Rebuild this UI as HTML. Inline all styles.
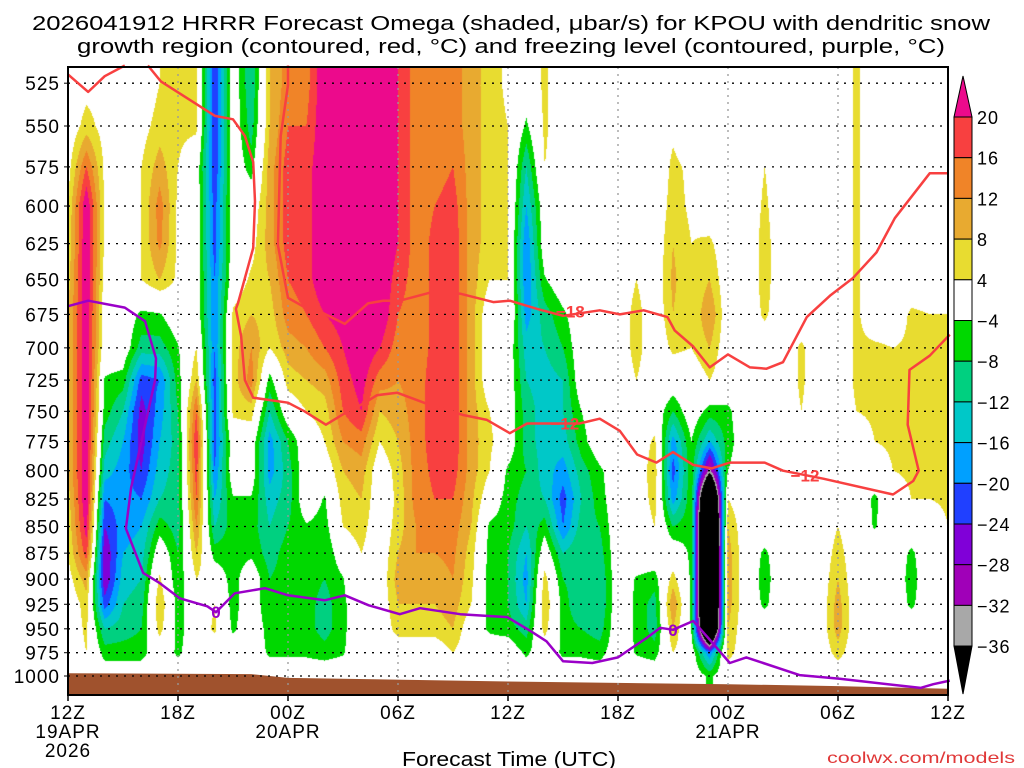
<!DOCTYPE html>
<html><head><meta charset="utf-8">
<style>
html,body{margin:0;padding:0;background:#fff;}
#wrap{position:relative;width:1024px;height:768px;overflow:hidden;font-family:"Liberation Sans",sans-serif;}
#field{position:absolute;left:0;top:0;}
#ov{position:absolute;left:0;top:0;}
</style></head>
<body>
<div id="wrap">
<canvas id="field" width="1024" height="768"></canvas>
<svg id="ov" width="1024" height="768" xmlns="http://www.w3.org/2000/svg">
<text x="511" y="30" text-anchor="middle" font-size="20" textLength="958" lengthAdjust="spacingAndGlyphs">2026041912 HRRR Forecast Omega (shaded, μbar/s) for KPOU with dendritic snow</text>
<text x="511" y="53" text-anchor="middle" font-size="20" textLength="868" lengthAdjust="spacingAndGlyphs">growth region (contoured, red, °C) and freezing level (contoured, purple, °C)</text>
<text x="509" y="766" text-anchor="middle" font-size="20" textLength="214" lengthAdjust="spacingAndGlyphs">Forecast Time (UTC)</text>
<text x="1015" y="763" text-anchor="end" font-size="16" fill="#e03838" textLength="188" lengthAdjust="spacingAndGlyphs">coolwx.com/models</text>
<g id="gAxes"></g>
</svg>
</div>
<script>
// ---- data ----
const timesH = [0,1,2,3,4,5,6,7,8,9,10,11,12,13,14,15,16,17,18,19,20,21,22,23,24,25,26,27,28,29,30,31,32,33,34,35,36,37,38,39,40,41,42,43,44,45,46,47,48];
const levels = [525,550,575,600,625,650,675,700,725,750,775,800,825,850,875,900,925,950,975,1000];
const omega = [
[0,0,2,4,5,6,8,8,8,8,8,8,6,5,4,2,0,0,0,0],
[2,6,16,24,24,24,24,24,24,24,24,24,24,22,18,10,6,5,4,0],
[2,2,3,3,3,2,0,0,-4.5,-6,-10,-14,-20,-24,-28,-28,-22,-12,-6,0],
[0,0,0,0,0,0,0,0,-6,-12,-16,-18,-18,-18,-16,-14,-12,-10,-6,0],
[0,2,4,4,4,4,-5,-10,-22,-26,-26,-24,-20,-16,-14,-12,-10,-8,-6,0],
[4,6,10,14,13,8,-4.5,-10,-20,-18,-16,-14,-12,-6,0,5,8,6,0,0],
[5,5,4,3,3,3,0,-4.5,-6,-8,-10,-10,-10,-10,-8,-8,-6,-6,-5,0],
[5,5,0,0,0,0,0,4,8,16,20,18,16,12,8,4,0,0,0,0],
[-24,-24,-24,-22,-22,-20,-20,-20,-22,-22,-22,-20,-16,-12,-6,0,4,5,0,0],
[0,0,0,0,0,0,5,6,6,5,0,0,-4.5,-6,-6,-6,-6,-5,0,0],
[-12,-10,-6,0,2,5,8,12,14,6,0,0,-4.5,-6,-5,0,0,0,0,0],
[8,8,10,10,10,8,6,4,-6,-12,-18,-18,-14,-12,-10,-8,-8,-6,-5,0],
[14,16,18,18,18,16,14,10,6,0,-8,-10,-10,-8,-6,-6,-5,-5,-5,0],
[14,16,18,18,18,18,16,12,8,4,0,0,0,-4.5,-6,-6,-6,-6,-5,0],
[24,24,24,24,24,24,20,16,10,6,4,0,-4.5,-6,-8,-8,-10,-10,-6,0],
[24,24,24,24,24,24,22,20,18,16,12,8,6,4,0,-4.5,-5,-5,-4.5,0],
[24,24,24,24,24,24,24,24,22,20,14,10,8,6,4,4,0,0,0,0],
[24,24,24,24,24,24,24,20,14,8,4,0,0,0,0,0,0,0,0,0],
[20,20,20,20,20,18,16,14,12,10,8,6,5,6,8,10,8,6,0,0],
[14,14,14,14,14,14,14,14,14,14,14,14,14,12,12,10,8,6,0,0],
[14,14,14,16,17,17,17,17,18,18,18,17,16,14,12,10,8,6,0,0],
[14,14,16,18,19,19,19,19,19,19,19,18,16,14,13,12,10,8,4,0],
[10,10,10,10,10,10,10,10,10,10,10,10,9,8,6,5,4,0,0,0],
[6,6,6,6,6,4,0,0,0,4,5,4,0,-5,-6,-6,-6,-5,0,0],
[3,4,4,4,4,4,4,0,0,0,0,-5,-6,-6,-8,-8,-8,-6,0,0],
[0,-5,-12,-16,-20,-20,-18,-14,-12,-10,-10,-8,-10,-12,-16,-18,-16,-10,-5,0],
[5,5,4,0,0,-4.5,-10,-12,-14,-14,-14,-14,-12,-6,0,6,8,6,0,0],
[0,0,0,0,0,0,-5,-8,-12,-12,-14,-18,-22,-20,-12,-8,-6,-6,-5,0],
[0,0,0,0,0,0,0,0,0,-4,-6,-10,-12,-10,-8,-10,-12,-8,-5,0],
[0,0,0,0,0,0,0,0,0,0,0,-5,-6,-8,-10,-12,-12,-10,-6,0],
[0,0,0,0,0,0,0,0,0,0,0,0,0,0,0,0,0,0,0,0],
[0,0,0,0,0,4,6,6,4,0,0,0,0,0,0,-4.5,-5,-5,-4.5,0],
[0,0,0,0,0,0,0,0,0,0,5,7,6,4,0,-6,-10,-10,-6,0],
[0,3,5,6,8,9,8,5,0,-8,-18,-22,-18,-8,0,6,12,8,4,0],
[0,0,3,3,4,4,4,4,0,0,-4,-5,-5,-5,-5,-5,-5,-4.5,0,0],
[0,0,0,0,5,8,12,8,4,-6,-16,-34,-70,-80,-80,-80,-80,-70,-20,-5],
[0,0,0,0,0,0,0,0,0,-5,-6,-4,4,8,10,10,10,8,6,0],
[0,0,0,0,0,0,0,0,0,0,0,0,0,0,0,0,0,0,0,0],
[0,0,4,5,6,6,5,0,0,0,0,0,0,0,-5,-6,-5,0,0,0],
[0,0,0,0,0,0,0,0,0,0,0,0,0,0,0,0,0,0,0,0],
[0,0,0,0,0,0,0,5,5,4,0,0,0,0,0,0,0,0,0,0],
[0,0,0,0,0,0,0,0,0,0,0,0,0,0,0,0,0,0,0,0],
[0,0,0,0,0,0,0,0,0,0,0,0,0,4,6,8,10,10,6,0],
[5,5,5,5,5,5,5,5,5,4,0,0,0,0,0,0,0,0,0,0],
[0,0,0,0,0,0,0,5,5,5,4,0,-5,-4.5,0,0,0,0,0,0],
[0,0,0,0,0,0,0,4,5,5,5,4,0,0,0,0,0,0,0,0],
[4,4,0,0,0,0,5,5,5,5,5,5,4,0,-5,-6,-5,0,0,0],
[0,0,0,0,0,0,4,5,5,5,5,5,4,0,0,0,0,0,0,0],
[0,0,0,0,0,0,4,5,5,5,5,5,5,4,0,0,0,0,0,0]
];
const sfcT = [0,10,12,24,36,42,48];
const sfcP = [997,998,1002,1006,1009,1011,1014];
const dgzUpperT = [0,1.1,2.0,3.1];
const dgzUpperP = [520,530,521,515];
const dgz12T = [4.36,5.07,8.02,9.0,9.65,10.1,10.2,10.1,9.27,9.16,9.44,9.65,10.1,12.0,12.9,14.07,15.27,16.2,16.85,17.95,19.6,21.55,22.85,24.1,25.04,26.3,27.9,29.0,30.1,31.04,32.1,33.0,34.1,35.1,36.1,38.0,39.0,41.2,45.0,46.1,46.4,45.8,45.9,47.0,48.1];
const dgz12P = [515,524,544,546,556,572,597,628,667,671,691,725,739,743,750,761,750,743,737,735,744,753,757,768,760,760,760,756,766,786,793,784,795,798,793,793,800,807,821,809,800,761,717,706,690];
const dgz18T = [12.0,12.0,11.6,11.45,12.0,13.47,13.9,15.1,16.36,17.2,18.1,20.1,21.4,23.2,24.1,25.6,27.0,29.0,30.1,31.4,32.7,33.1,34.1,35.0,36.0,37.2,38.1,39.0,40.3,41.6,42.8,44.1,45.1,47.0,47.95];
const dgz18P = [515,526,556,626,663,674,674,682,667,665,665,658,660,666,665,671,676,672,675,672,677,687,699,715,705,715,716,711,677,661,649,631,608,579,579];
const frzT = [0,1.1,3.1,4.2,4.8,4.75,3.44,3.16,4.1,5.0,6.1,7.6,8.07,8.45,9.1,10.75,12.0,14.0,15.1,16.4,18.1,19.2,21.4,23.95,25.2,26.1,27.0,28.6,30.0,31.6,32.3,33.0,34.1,34.9,36.1,37.0,39.9,42.1,46.5,47.2,48.1];
const frzP = [669,665,670,680,708,725,815,852,894,904,919,927,933,926,914,909,916,921,916,926,935,929,935,938,952,963,984,986,980,959,949,951,942,959,986,980,999,1003,1013,1009,1005];
const contourLabels = [["−18",27.4,673,"#f84040"],["−12",27.1,760,"#f84040"],["−12",40.2,804,"#f84040"],["0",8.07,933,"#9a00c8"],["0",33.0,951,"#9a00c8"]];
const yTicks = [525,550,575,600,625,650,675,700,725,750,775,800,825,850,875,900,925,950,975,1000];
const xTickH = [0,6,12,18,24,30,36,42,48];
const xTickLab = ["12Z","18Z","00Z","06Z","12Z","18Z","00Z","06Z","12Z"];
const xTickLab2 = ["19APR","","20APR","","","","21APR","",""];
const cbLevels = [20,16,12,8,4,-4,-8,-12,-16,-20,-24,-28,-32,-36];
const cbColors = ["#ec0a8c","#f84040","#f08428","#e8aa30","#e8dc30","#ffffff","#00d800","#00d080","#00c8c8","#00a0ff","#2040ff","#8000d8","#a000b8","#a8a8a8","#000000"];

// ---- axes ----
const PX0=68, PX1=948, PY0=67, PY1=695;
function xOf(t){return PX0 + t*(PX1-PX0)/48;}
function yOf(p){return 676 - 920*Math.log(1000/p);}
function pOfY(y){return 1000*Math.exp(-(676-y)/920);}
function colorFor(v){
  for(let i=0;i<cbLevels.length;i++){ if(i<5){ if(v>=cbLevels[i]) return cbColors[i]; } else { if(v>cbLevels[i]) return cbColors[i]; } }
  return cbColors[14];
}
function hex(c){return [parseInt(c.substr(1,2),16),parseInt(c.substr(3,2),16),parseInt(c.substr(5,2),16)];}

// ---- shading ----
(function(){
  const cv=document.getElementById('field'); const ctx=cv.getContext('2d');
  const img=ctx.createImageData(PX1-PX0, PY1-PY0);
  const nT=timesH.length, nL=levels.length;
  for(let y=PY0;y<PY1;y++){
    const p=pOfY(y+0.5);
    let r=(p-levels[0])/(levels[1]-levels[0]); r=Math.max(0,Math.min(nL-1.0001,r));
    const r0=Math.floor(r), fr=r-r0;
    for(let x=PX0;x<PX1;x++){
      let t=(x+0.5-PX0)/((PX1-PX0)/48); t=Math.max(0,Math.min(nT-1.0001,t));
      const c0=Math.floor(t), fc=t-c0;
      const v=(omega[c0][r0]*(1-fr)+omega[c0][r0+1]*fr)*(1-fc)+(omega[c0+1][r0]*(1-fr)+omega[c0+1][r0+1]*fr)*fc;
      const col=hex(colorFor(v));
      const i=((y-PY0)*(PX1-PX0)+(x-PX0))*4;
      img.data[i]=col[0];img.data[i+1]=col[1];img.data[i+2]=col[2];img.data[i+3]=255;
    }
  }
  ctx.putImageData(img,PX0,PY0);
})();

// ---- overlay ----
const NS="http://www.w3.org/2000/svg";
const g=document.getElementById('gAxes');
function mk(tag,attrs){const e=document.createElementNS(NS,tag);for(const k in attrs)e.setAttribute(k,attrs[k]);g.appendChild(e);return e;}

// terrain
let tp="M"+xOf(sfcT[0])+","+PY1;
for(let i=0;i<sfcT.length;i++) tp+=" L"+xOf(sfcT[i])+","+yOf(sfcP[i]);
tp+=" L"+xOf(sfcT[sfcT.length-1])+","+PY1+" Z";
let el=mk('path',{d:tp,fill:'#a0522d'});



// grid
yTicks.forEach(p=>{
  const y=yOf(p);
  let l=mk('line',{x1:PX0,x2:PX1,y1:y,y2:y,stroke:'#000','stroke-width':1.3,'stroke-dasharray':'2,6'});
  
  
  let tk=mk('line',{x1:PX0-4,x2:PX0,y1:y,y2:y,stroke:'#000','stroke-width':1});
  
  
  let tx=mk('text',{x:PX0-8,y:y+7,'text-anchor':'end','font-size':19,'letter-spacing':'1'});
  tx.textContent=p;
  
  
});
xTickH.forEach((h,i)=>{
  const x=xOf(h);
  if(i>0&&i<xTickH.length-1){
    let l=mk('line',{x1:x,x2:x,y1:PY0,y2:PY1,stroke:'#999','stroke-width':1.3,'stroke-dasharray':'2,5'});
    
    
  }
  let tk=mk('line',{x1:x,x2:x,y1:PY1,y2:PY1+6,stroke:'#000','stroke-width':1.5});
  
  
  let tx=mk('text',{x:x,y:719,'text-anchor':'middle','font-size':19,'letter-spacing':'1'});
  tx.textContent=xTickLab[i];
  
  
  if(xTickLab2[i]){
    let t2=mk('text',{x:x,y:738,'text-anchor':'middle','font-size':19,'letter-spacing':'1'});
    t2.textContent=xTickLab2[i];
    
    
  }
});
let yr=mk('text',{x:xOf(0),y:757,'text-anchor':'middle','font-size':19,'letter-spacing':'1'});
yr.textContent="2026";



// contour lines
function line(T,P,color,name){
  let d="";
  for(let i=0;i<T.length;i++) d+=(i?" L":"M")+xOf(T[i]).toFixed(1)+","+yOf(P[i]).toFixed(1);
  const e=mk('path',{d:d,fill:'none',stroke:color,'stroke-width':2.5,'stroke-linejoin':'round'});
  
  
}
line(dgzUpperT,dgzUpperP,'#f84040','dgz-contour-upper-left');
line(dgz12T,dgz12P,'#f84040','dgz-contour-minus12');
line(dgz18T,dgz18P,'#f84040','dgz-contour-minus18');
line(frzT,frzP,'#9a00c8','freezing-level-contour');
contourLabels.forEach(c=>{
  const t=mk('text',{x:xOf(c[1]),y:yOf(c[2])+6,'text-anchor':'middle','font-size':17,'font-weight':'bold',fill:c[3]});
  t.textContent=c[0];
  
  
});

// frame
let fr=mk('rect',{x:PX0,y:PY0,width:PX1-PX0,height:PY1-PY0,fill:'none',stroke:'#000','stroke-width':2});



// colorbar
const CBX=954, CBW=18, CBTOP=117, CBSTEP=40.7;
let tri=mk('polygon',{points:`${CBX},${CBTOP} ${CBX+CBW},${CBTOP} ${CBX+CBW/2},76`,fill:cbColors[0],stroke:'#000','stroke-width':1});


for(let i=0;i<13;i++){
  const r=mk('rect',{x:CBX,y:CBTOP+i*CBSTEP,width:CBW,height:CBSTEP,fill:cbColors[i+1],stroke:'#000','stroke-width':1});
  
  
}
const cbBot=CBTOP+13*CBSTEP;
let tri2=mk('polygon',{points:`${CBX},${cbBot} ${CBX+CBW},${cbBot} ${CBX+CBW/2},694`,fill:'#000',stroke:'#000','stroke-width':1});


cbLevels.forEach((v,i)=>{
  const t=mk('text',{x:977,y:CBTOP+i*CBSTEP+7,'font-size':18,'letter-spacing':'1'});
  t.textContent=(v<0?"−"+(-v):String(v));
  
  
});
</script>
</body></html>
